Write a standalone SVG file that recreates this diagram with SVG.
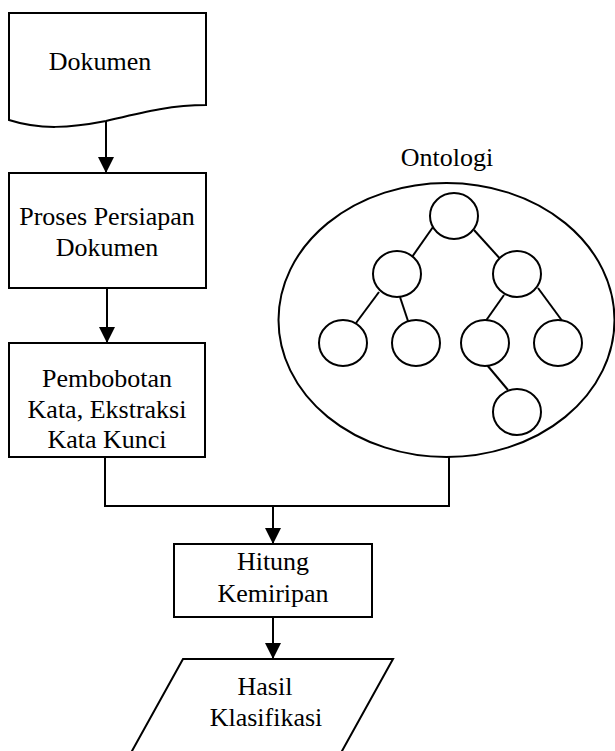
<svg xmlns="http://www.w3.org/2000/svg" width="615" height="751" viewBox="0 0 615 751">
<defs>
<marker id="ah" markerWidth="16" markerHeight="16" refX="16" refY="8" orient="auto" markerUnits="userSpaceOnUse" viewBox="0 0 16 16">
<path d="M0,0 L16,8 L0,16 Z" fill="#000"/>
</marker>
<style>
.s{fill:#fff;stroke:#000;stroke-width:2}
.c{fill:none;stroke:#000;stroke-width:2}
text{font-size:26px;fill:#000;text-anchor:middle}
</style>
</defs>
<rect width="615" height="751" fill="#fff"/>
<g id="connectors">
<path class="c" d="M106,121 L106,173" marker-end="url(#ah)"/>
<path class="c" d="M107,288 L107,343" marker-end="url(#ah)"/>
<path class="c" d="M105,457 L105,506 L449,506 L449,457"/>
<path class="c" d="M273,506 L273,544" marker-end="url(#ah)"/>
<path class="c" d="M273,617 L273,659" marker-end="url(#ah)"/>
</g>
<g font-family="Liberation Serif, Times New Roman, serif">
<g id="dokumen">
<path class="s" d="M9,13 L206,13 L206,105 C170,105 140,113 106,121 C70,128 40,130 9,120 Z"/>
<text x="100" y="70">Dokumen</text>
</g>
<g id="proses">
<rect class="s" x="9" y="173" width="197" height="115"/>
<text x="107" y="225">Proses Persiapan</text>
<text x="107" y="256">Dokumen</text>
</g>
<g id="pembobotan">
<rect class="s" x="9" y="343" width="196" height="114"/>
<text x="107" y="387">Pembobotan</text>
<text x="107" y="418">Kata, Ekstraksi</text>
<text x="107" y="448">Kata Kunci</text>
</g>
<g id="ontologi">
<text x="447" y="166">Ontologi</text>
<ellipse class="s" cx="446.5" cy="320" rx="168" ry="137"/>
<g class="c">
<line x1="433" y1="227" x2="412" y2="257"/>
<line x1="474" y1="230" x2="503" y2="262"/>
<line x1="379" y1="292" x2="356" y2="323"/>
<line x1="400" y1="297" x2="409" y2="324"/>
<line x1="504" y1="295" x2="485" y2="322"/>
<line x1="538" y1="288" x2="563" y2="322"/>
<line x1="487" y1="365" x2="508" y2="390"/>
</g>
<ellipse class="s" cx="454" cy="216" rx="24" ry="23"/>
<ellipse class="s" cx="397" cy="274" rx="24" ry="23"/>
<ellipse class="s" cx="517" cy="274" rx="24" ry="23"/>
<ellipse class="s" cx="343" cy="343" rx="24" ry="23"/>
<ellipse class="s" cx="416" cy="343" rx="24" ry="23"/>
<ellipse class="s" cx="485" cy="343" rx="24" ry="23"/>
<ellipse class="s" cx="558" cy="343" rx="24" ry="23"/>
<ellipse class="s" cx="517" cy="412" rx="24" ry="23"/>
</g>
<g id="hitung">
<rect class="s" x="174" y="544" width="198" height="73"/>
<text x="273" y="570">Hitung</text>
<text x="273" y="602">Kemiripan</text>
</g>
<g id="hasil">
<polygon class="s" points="183,659 393,659 337,760 127,760"/>
<text x="265" y="695">Hasil</text>
<text x="266" y="726">Klasifikasi</text>
</g>
</g>
</svg>
